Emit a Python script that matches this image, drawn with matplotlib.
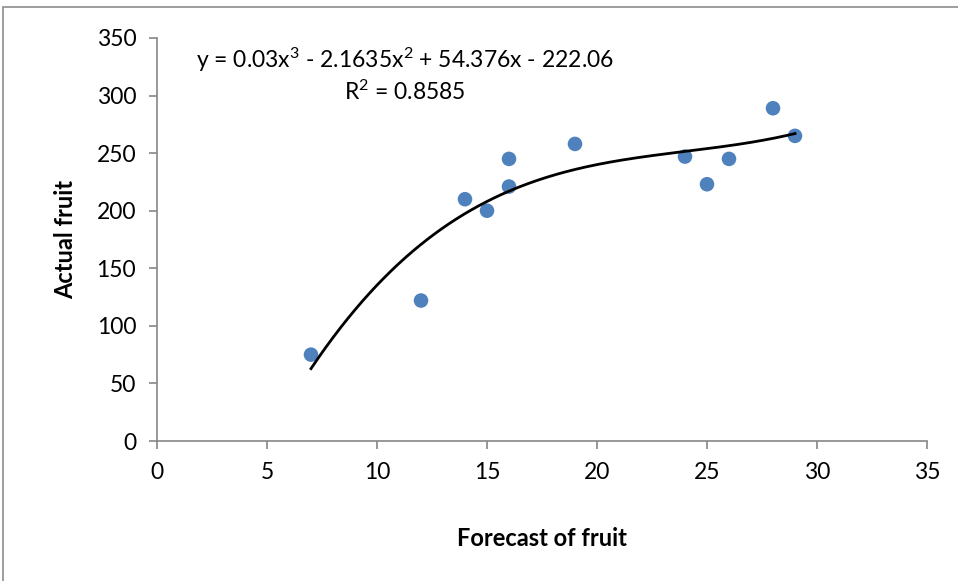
import matplotlib.pyplot as plt
from matplotlib.patches import Rectangle
import numpy as np

plt.rcParams['font.family'] = ['Lato', 'DejaVu Sans']
plt.rcParams['mathtext.fontset'] = 'custom'
plt.rcParams['mathtext.rm'] = 'Lato'
plt.rcParams['mathtext.it'] = 'Lato:italic'

forecast = [7, 12, 14, 15, 16, 16, 19, 24, 25, 26, 28, 29]
actual = [75, 122, 210, 200, 245, 221, 258, 247, 223, 245, 289, 265]
# trendline coefficients as printed on the chart (x^3, x^2, x, 1)
coef = [0.03, -2.1635, 54.376, -222.06]
r2 = 0.8585

fig = plt.figure(figsize=(9.58, 5.81), dpi=100)
ax = fig.add_axes([157 / 958, 1 - 441 / 581, 770 / 958, 403 / 581])

# outer frame of the chart area
fig.patches.append(Rectangle((3 / 958, -0.1), 1.2, 1 - 7 / 581 + 0.1,
                             transform=fig.transFigure, fill=False,
                             edgecolor='#8c8c8c', lw=1.2))

xs = np.linspace(min(forecast), max(forecast), 200)
ax.plot(xs, np.polyval(coef, xs), color='black', lw=2, zorder=3)
ax.scatter(forecast, actual, s=110, color='#4F81BD', edgecolors='none', zorder=2)

ax.set_xlim(0, 35)
ax.set_ylim(0, 350)
ax.set_xticks(range(0, 36, 5))
ax.set_yticks(range(0, 351, 50))
for s in ['top', 'right']:
    ax.spines[s].set_visible(False)
for s in ['left', 'bottom']:
    ax.spines[s].set_color('#868686')
    ax.spines[s].set_linewidth(1.2)
ax.tick_params(direction='out', length=6, width=1.2, color='#868686',
               labelsize=16.5, pad=9)

ax.set_xlabel('Forecast of fruit', fontsize=17, fontweight='bold', labelpad=32)
ax.set_ylabel('Actual fruit', fontsize=17, fontweight='bold', labelpad=14)

ax.text(11.27, 331, 'y = 0.03x$^{3}$ - 2.1635x$^{2}$ + 54.376x - 222.06',
        fontsize=16.5, ha='center', va='center')
ax.text(11.27, 303, 'R$^{2}$ = %.4f' % r2, fontsize=16.5, ha='center', va='center')

fig.savefig('out.png', dpi=100)
